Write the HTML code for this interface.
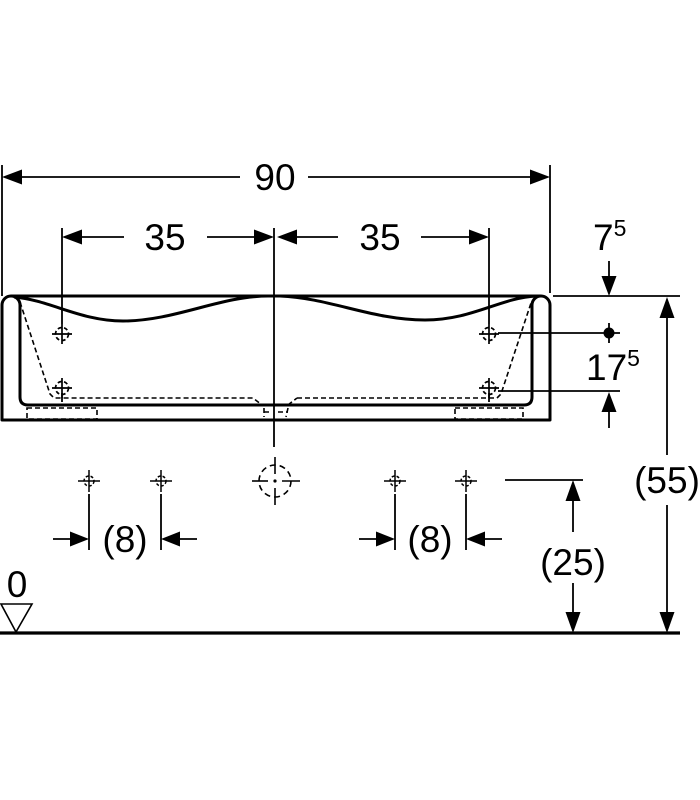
<!DOCTYPE html>
<html><head><meta charset="utf-8"><style>
html,body{margin:0;padding:0;background:#fff;}
svg{display:block;}
text{font-family:"Liberation Sans",Arial,sans-serif;fill:#000;}
</style></head><body>
<svg width="700" height="800" viewBox="0 0 700 800" xmlns="http://www.w3.org/2000/svg">
<defs>
<g id="ch">
<circle cx="0" cy="0" r="6.5" fill="none" stroke="#000" stroke-width="1.7" stroke-dasharray="4 2.5"/>
<line x1="-10" y1="0" x2="10" y2="0" stroke="#000" stroke-width="1.7"/>
<line x1="0" y1="-10" x2="0" y2="10" stroke="#000" stroke-width="1.7"/>
</g>
<g id="chs">
<circle cx="0" cy="0" r="5" fill="none" stroke="#000" stroke-width="1.5" stroke-dasharray="3 2"/>
<line x1="-11" y1="0" x2="11" y2="0" stroke="#000" stroke-width="1.5"/>
<line x1="0" y1="-11" x2="0" y2="11" stroke="#000" stroke-width="1.5"/>
</g>
</defs>
<g stroke="#000" stroke-width="1.8" fill="none">
<!-- 90 dimension -->
<line x1="2" y1="165" x2="2" y2="296"/>
<line x1="550" y1="165" x2="550" y2="293"/>
<line x1="20" y1="177" x2="240" y2="177"/>
<line x1="308" y1="177" x2="532" y2="177"/>
<!-- 35 dims -->
<line x1="62" y1="228" x2="62" y2="324"/>
<line x1="274" y1="228" x2="274" y2="447"/>
<line x1="489" y1="228" x2="489" y2="324"/>
<line x1="80" y1="237" x2="124" y2="237"/>
<line x1="207" y1="237" x2="256" y2="237"/>
<line x1="295" y1="237" x2="338" y2="237"/>
<line x1="421" y1="237" x2="471" y2="237"/>
<!-- 7.5 -->
<line x1="553" y1="296" x2="680" y2="296"/>
<line x1="609" y1="261" x2="609" y2="280"/>
<!-- 17.5 -->
<line x1="498" y1="333" x2="620" y2="333"/>
<line x1="609" y1="323" x2="609" y2="343"/>
<line x1="498" y1="391" x2="620" y2="391"/>
<line x1="609" y1="410" x2="609" y2="428"/>
<!-- 55 -->
<line x1="667" y1="316" x2="667" y2="455"/>
<line x1="667" y1="505" x2="667" y2="615"/>
<!-- 25 -->
<line x1="505" y1="480" x2="583" y2="480"/>
<line x1="573" y1="500" x2="573" y2="532"/>
<line x1="573" y1="583" x2="573" y2="615"/>
<!-- 8 dims -->
<line x1="89" y1="494" x2="89" y2="550"/>
<line x1="161" y1="494" x2="161" y2="550"/>
<line x1="53" y1="539" x2="72" y2="539"/>
<line x1="178" y1="539" x2="197" y2="539"/>
<line x1="395" y1="494" x2="395" y2="550"/>
<line x1="466" y1="494" x2="466" y2="550"/>
<line x1="359" y1="539" x2="378" y2="539"/>
<line x1="483" y1="539" x2="502" y2="539"/>
<!-- crosshair stems -->
<line x1="62" y1="393" x2="62" y2="402"/>
<line x1="489" y1="393" x2="489" y2="402"/>
</g>
<!-- arrowheads -->
<g fill="#000">
<polygon points="2,177 22,169.5 22,184.5"/>
<polygon points="550,177 530,169.5 530,184.5"/>
<polygon points="62,237 82,229.5 82,244.5"/>
<polygon points="274,237 254,229.5 254,244.5"/>
<polygon points="277,237 297,229.5 297,244.5"/>
<polygon points="489,237 469,229.5 469,244.5"/>
<polygon points="609,296 601.5,276 616.5,276"/>
<polygon points="609,392 601.5,412 616.5,412"/>
<circle cx="609" cy="333" r="5.5"/>
<polygon points="667,297 659.5,318 674.5,318"/>
<polygon points="667,633 659.5,612 674.5,612"/>
<polygon points="573,480 565.5,501 580.5,501"/>
<polygon points="573,633 565.5,612 580.5,612"/>
<polygon points="89,539 70,531.5 70,546.5"/>
<polygon points="161,539 180,531.5 180,546.5"/>
<polygon points="395,539 376,531.5 376,546.5"/>
<polygon points="466,539 485,531.5 485,546.5"/>
</g>
<!-- sink body -->
<g stroke="#000" stroke-width="3" fill="none" stroke-linejoin="round">
<path d="M2,420 V305 A9,9 0 0 1 20,305 V397 Q20,405 28,405 H524 Q532,405 532,397 V305 A9,9 0 0 1 550,305 V420 Z"/>
<line x1="11" y1="296" x2="541" y2="296"/>
<path d="M14,297 C50,300 80,321 123,321 C175,321 220,296 268,296"/>
<path d="M280,296 C330,298 372,320 425,320 C472,320 500,298 536,296"/>
</g>
<!-- dashed hidden lines -->
<g stroke="#000" stroke-width="1.6" fill="none" stroke-dasharray="5 3">
<path d="M20,302 L50,394 L54,398 H253 L262,405"/>
<path d="M297,398 H497 L501,394 L531,303"/>
<path d="M288,405 L297,398"/>
<rect x="27" y="408" width="70" height="11"/>
<rect x="455" y="408" width="68" height="11"/>
<path d="M264,412 H272 M278,412 H288"/>
<path d="M264,408 L264,417 M288,408 L286,417"/>
</g>
<!-- crosshairs -->
<use href="#ch" x="62" y="334"/>
<use href="#ch" x="62" y="388"/>
<use href="#ch" x="489" y="334"/>
<use href="#ch" x="489" y="388"/>
<use href="#chs" x="89" y="481"/>
<use href="#chs" x="161" y="481"/>
<use href="#chs" x="395" y="481"/>
<use href="#chs" x="466" y="481"/>
<!-- center large crosshair -->
<g stroke="#000" stroke-width="1.6" fill="none">
<circle cx="275" cy="481" r="16" stroke-dasharray="6 4"/>
<line x1="252" y1="481" x2="268" y2="481"/>
<line x1="282" y1="481" x2="300" y2="481"/>
<line x1="275" y1="457" x2="275" y2="474"/>
<line x1="275" y1="488" x2="275" y2="505"/>
</g>
<circle cx="275" cy="481" r="1.6" fill="#000"/>
<!-- ground -->
<line x1="0" y1="633" x2="680" y2="633" stroke="#000" stroke-width="3.2"/>
<polygon points="1,604 32,604 16,632" fill="none" stroke="#000" stroke-width="1.6"/>
<!-- labels -->
<g font-size="37">
<text x="275" y="190" text-anchor="middle">90</text>
<text x="165" y="250" text-anchor="middle">35</text>
<text x="380" y="250" text-anchor="middle">35</text>
<text x="593" y="250">7<tspan font-size="23" dy="-14">5</tspan></text>
<text x="586" y="380">17<tspan font-size="23" dy="-14">5</tspan></text>
<text x="667" y="493" text-anchor="middle">(55)</text>
<text x="573" y="575" text-anchor="middle">(25)</text>
<text x="125" y="552" text-anchor="middle">(8)</text>
<text x="430" y="552" text-anchor="middle">(8)</text>
<text x="17" y="597" text-anchor="middle">0</text>
</g>
</svg>
</body></html>
